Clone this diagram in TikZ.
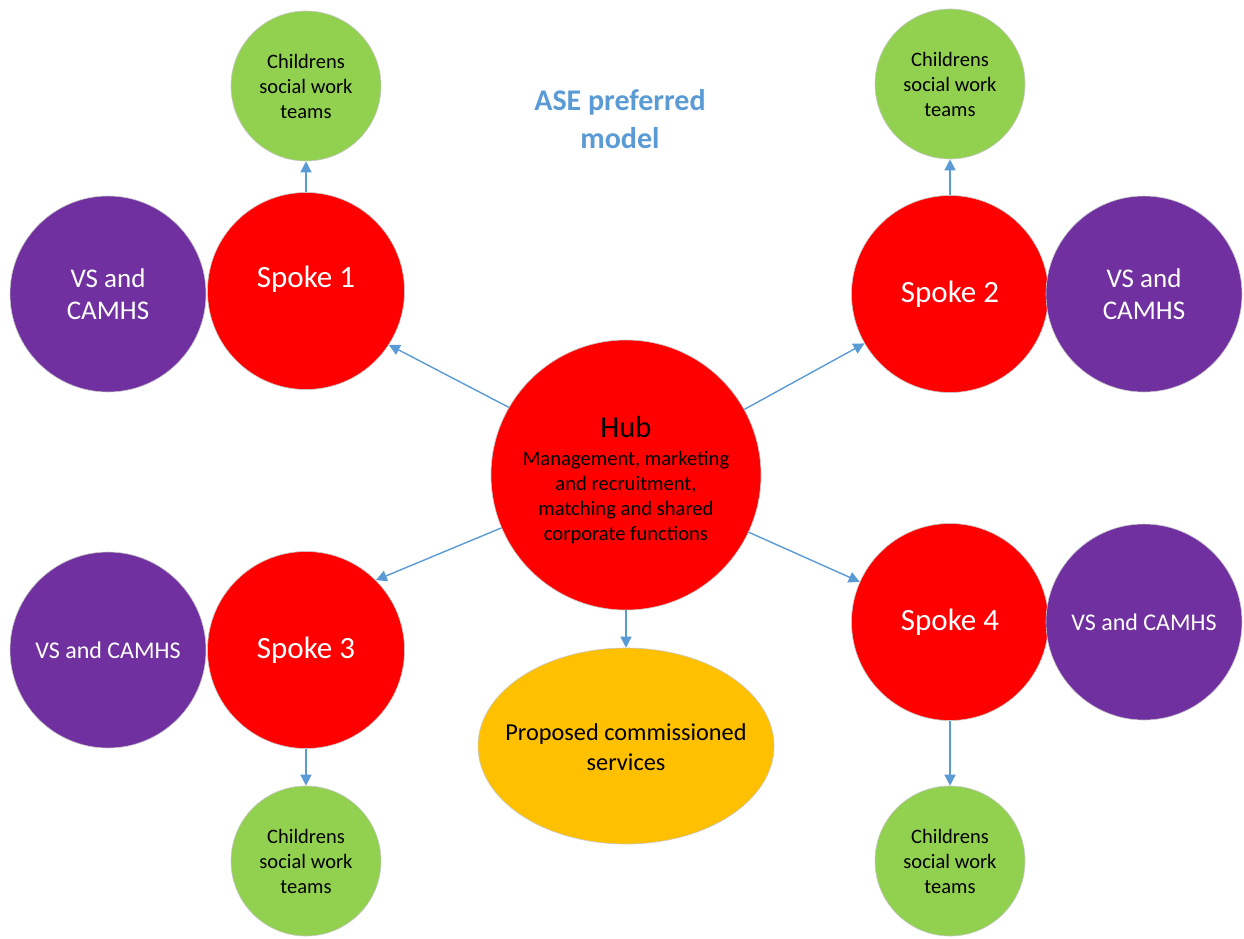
\documentclass[tikz,border=0pt]{standalone}
\usepackage{fontspec}
\setmainfont{Carlito}
\usetikzlibrary{arrows.meta,shapes.geometric}
\definecolor{spokered}{HTML}{FF0000}
\definecolor{vspurple}{HTML}{7030A0}
\definecolor{teamgreen}{HTML}{92D050}
\definecolor{servorange}{HTML}{FFC000}
\definecolor{linkblue}{HTML}{5B9BD5}
\tikzset{
  ball/.style={circle, draw=black!22, line width=0.6pt, inner sep=0pt, align=center},
  spokeball/.style={ball, fill=spokered, minimum size=197pt, text=white, font=\fontsize{31}{37}\selectfont},
  vsball/.style={ball, fill=vspurple, minimum size=196pt, text=white, font=\fontsize{27}{32}\selectfont},
  vsballsmall/.style={vsball, font=\fontsize{24}{29}\selectfont},
  teamball/.style={ball, fill=teamgreen, minimum size=150pt, text=black, font=\fontsize{20.5}{25}\selectfont},
  link/.style={draw=linkblue, line width=1.4pt, -{Triangle[length=11pt,width=11pt]}},
}
\begin{document}
\begin{tikzpicture}[x=1pt,y=-1pt]
\useasboundingbox (0,0) rectangle (1244,938);

% title
\node[text=linkblue, font=\bfseries\fontsize{30}{38}\selectfont, align=center] (title) at (620,119) {ASE preferred\\model};

% hub
\node[ball, fill=spokered, minimum size=270pt] (hub) at (626,475) {};
\node[align=center, text=black, font=\fontsize{20.6}{25}\selectfont] (hubtext) at (626,480.5)
  {{\fontsize{30.5}{34}\selectfont Hub}\\[3pt]
   Management, marketing\\ and recruitment,\\ matching and shared\\ corporate functions};

% services ellipse
\node[ellipse, draw=black!22, line width=0.6pt, fill=servorange, minimum width=296pt, minimum height=196pt, inner sep=0pt] (serv) at (626,746) {};
\node[align=center, font=\fontsize{24.3}{30}\selectfont] (servtext) at (626,747) {Proposed commissioned\\ services};

% spokes
\node[spokeball] (s1) at (306,291) {};
\node[text=white, font=\fontsize{31}{37}\selectfont] (s1text) at (306,279) {Spoke 1};
\node[spokeball] (s2) at (950,294) {\raisebox{-2pt}{Spoke 2}};
\node[spokeball] (s3) at (306,650) {\raisebox{-2pt}{Spoke 3}};
\node[spokeball] (s4) at (950,622) {\raisebox{-2pt}{Spoke 4}};

% VS and CAMHS
\node[vsball] (v1) at (108,294) {VS and\\ CAMHS};
\node[vsball] (v2) at (1144,294) {VS and\\ CAMHS};
\node[vsballsmall] (v3) at (108,650) {VS and CAMHS};
\node[vsballsmall] (v4) at (1144,622) {VS and CAMHS};

% teams
\node[teamball] (t1) at (306,86) {Childrens\\ social work\\ teams};
\node[teamball] (t2) at (950,84) {Childrens\\ social work\\ teams};
\node[teamball] (t3) at (306,861) {Childrens\\ social work\\ teams};
\node[teamball] (t4) at (950,861) {Childrens\\ social work\\ teams};

% connectors
\draw[link] (hub.150) -- (s1.-33);
\draw[link] (hub.29) -- (s2.210);
\draw[link] (hub.203) -- (s3.45);
\draw[link] (hub.335) -- (s4.156);
\draw[link] (hub.south) -- (serv.north);
\draw[link] (s1.north) -- (t1.south);
\draw[link] (s2.north) -- (t2.south);
\draw[link] (s3.south) -- (t3.north);
\draw[link] (s4.south) -- (t4.north);
\end{tikzpicture}
\end{document}
